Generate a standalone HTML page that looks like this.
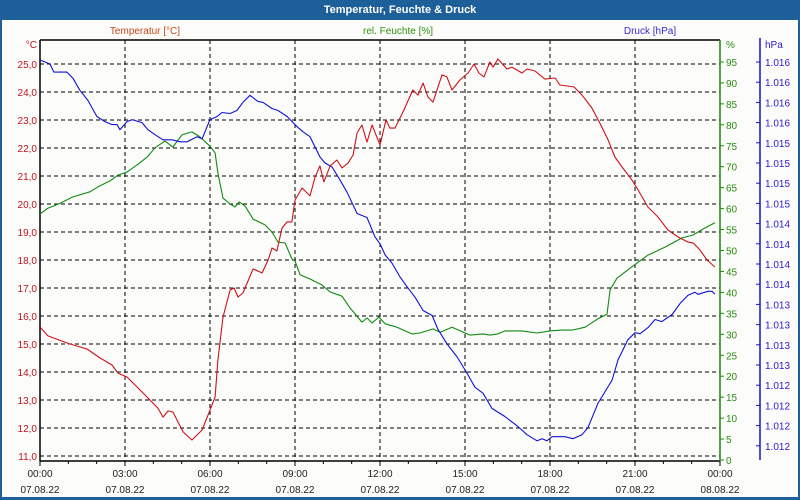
<!DOCTYPE html>
<html><head><meta charset="utf-8"><style>
html,body{margin:0;padding:0;background:#fff}
#wrap{position:relative;width:800px;height:500px;overflow:hidden;font-family:"Liberation Sans",Tahoma,sans-serif}
</style></head><body>
<div id="wrap">
<svg id="svg" width="800" height="500" xmlns="http://www.w3.org/2000/svg">
  <rect x="0" y="0" width="800" height="500" fill="#1d5f98"/>
  <rect x="2" y="20" width="796" height="477" fill="#fcfdfa"/>
  <text x="400" y="13" fill="#fff" font-size="11" font-weight="bold" text-anchor="middle">Temperatur, Feuchte &amp; Druck</text>
  <text x="145" y="34" fill="#c8461a" font-size="10" text-anchor="middle">Temperatur [°C]</text>
  <text x="398" y="34" fill="#2f8f10" font-size="10" text-anchor="middle">rel. Feuchte [%]</text>
  <text x="650" y="34" fill="#3a2ad0" font-size="10" text-anchor="middle">Druck [hPa]</text>
  <g id="grid"></g>
  <g id="axes"></g>
  <g id="series"></g>
</svg>
</div>
<script>
const tempTicks = [11,12,13,14,15,16,17,18,19,20,21,22,23,24,25];
const humTicks = [0,5,10,15,20,25,30,35,40,45,50,55,60,65,70,75,80,85,90,95];
const presTickLabels = ["1.016","1.016","1.016","1.016","1.015","1.015","1.015","1.015","1.014","1.014","1.014","1.014","1.013","1.013","1.013","1.013","1.012","1.012","1.012","1.012"];
const timeTicks = [0,3,6,9,12,15,18,21,24];
const timeLabels = ["00:00","03:00","06:00","09:00","12:00","15:00","18:00","21:00","00:00"];
const dateLabels = ["07.08.22","07.08.22","07.08.22","07.08.22","07.08.22","07.08.22","07.08.22","07.08.22","08.08.22"];

const tempHours = [0,0.28,1.06,1.66,2.12,2.54,2.75,3.07,3.53,4.16,4.34,4.52,4.69,5.05,5.36,5.72,6.0,6.18,6.28,6.46,6.71,6.85,6.99,7.16,7.52,7.84,8.05,8.19,8.36,8.54,8.72,8.89,9.0,9.25,9.53,9.71,9.88,10.02,10.24,10.48,10.66,10.87,11.05,11.19,11.36,11.54,11.72,12.0,12.21,12.35,12.53,12.81,13.16,13.34,13.52,13.69,13.87,14.19,14.36,14.54,14.82,15.11,15.32,15.49,15.67,15.88,15.99,16.16,16.48,16.66,17.01,17.19,17.47,17.82,18.18,18.35,18.85,19.13,19.48,19.76,20.05,20.29,20.54,20.89,21.11,21.46,21.81,22.16,22.52,22.87,23.05,23.29,23.54,23.82];
const tempValues = [15.61,15.29,15.0,14.82,14.5,14.25,13.96,13.82,13.36,12.71,12.39,12.61,12.57,11.86,11.57,11.93,12.64,13.11,14.43,15.96,16.93,17.0,16.68,16.82,17.68,17.54,18.0,18.43,18.32,19.14,19.36,19.36,20.14,20.57,20.29,20.96,21.36,20.79,21.36,21.57,21.29,21.46,21.75,22.54,22.82,22.21,22.82,22.11,23.0,22.71,22.71,23.29,24.07,23.89,24.32,23.82,23.64,24.61,24.54,24.07,24.43,24.68,25.0,24.68,24.54,25.07,24.89,25.18,24.82,24.89,24.68,24.82,24.75,24.46,24.5,24.25,24.18,23.89,23.43,22.89,22.29,21.68,21.32,20.86,20.5,19.89,19.54,19.07,18.82,18.64,18.61,18.36,18.0,17.75];

const humHours = [0,0.28,0.71,1.16,1.76,2.05,2.47,2.75,3.07,3.46,3.78,4.06,4.41,4.69,5.01,5.36,5.65,6.0,6.18,6.28,6.46,6.71,6.88,7.03,7.24,7.52,7.94,8.19,8.4,8.65,8.89,9.0,9.18,9.53,9.95,10.24,10.66,10.94,11.36,11.54,11.72,11.96,12.18,12.6,13.13,13.41,13.87,14.12,14.54,15.18,15.64,15.88,16.16,16.41,17.01,17.54,18.0,18.42,18.78,19.24,19.69,20.01,20.12,20.36,20.89,21.46,22.06,22.66,23.05,23.47,23.82];
const humValues = [58.7,60.1,61.3,62.8,64.0,65.2,66.6,68.0,68.7,70.6,72.3,74.5,76.1,74.7,77.6,78.3,77.1,74.9,73.3,68.5,62.5,61.1,60.4,61.6,60.6,57.5,56.1,54.4,52.0,51.8,48.0,47.5,44.2,43.2,41.8,40.1,39.1,36.3,32.9,33.9,32.7,34.1,32.5,31.7,30.1,30.3,31.3,30.5,31.7,29.8,30.1,29.8,30.1,30.8,30.8,30.3,30.8,31.0,31.0,31.7,33.7,34.8,40.6,43.4,46.1,48.9,50.8,53.0,53.7,55.4,56.6];

const presHours = [0,0.35,0.49,0.95,1.16,1.41,1.69,2.01,2.29,2.54,2.72,2.82,3.07,3.25,3.6,3.81,4.06,4.34,4.66,4.94,5.19,5.54,5.72,6.0,6.25,6.42,6.71,6.95,7.16,7.41,7.69,7.87,8.19,8.4,8.72,9.07,9.28,9.53,9.88,10.06,10.31,10.59,10.84,11.19,11.54,11.82,12.0,12.18,12.42,12.71,12.99,13.24,13.52,13.84,14.05,14.36,14.72,15.07,15.35,15.64,15.95,16.41,16.87,17.19,17.54,17.72,17.89,18.07,18.53,18.81,19.13,19.34,19.69,20.19,20.4,20.75,21.0,21.18,21.46,21.71,21.95,22.31,22.59,22.87,23.12,23.22,23.58,23.72,23.82];
const presValues = [1016.32,1016.28,1016.2,1016.2,1016.14,1016.02,1015.92,1015.76,1015.71,1015.68,1015.68,1015.63,1015.71,1015.73,1015.7,1015.63,1015.58,1015.53,1015.53,1015.51,1015.51,1015.56,1015.54,1015.73,1015.76,1015.8,1015.79,1015.82,1015.9,1015.97,1015.91,1015.9,1015.84,1015.82,1015.76,1015.66,1015.61,1015.56,1015.36,1015.3,1015.26,1015.13,1015.01,1014.8,1014.76,1014.57,1014.5,1014.39,1014.31,1014.17,1014.06,1013.97,1013.84,1013.79,1013.65,1013.51,1013.38,1013.22,1013.08,1013.02,1012.87,1012.79,1012.69,1012.61,1012.55,1012.57,1012.55,1012.59,1012.59,1012.57,1012.61,1012.68,1012.92,1013.15,1013.35,1013.55,1013.62,1013.61,1013.67,1013.75,1013.73,1013.8,1013.91,1013.99,1014.02,1014.0,1014.03,1014.03,1014.0];

const NS = "http://www.w3.org/2000/svg";
const X0 = 40, X1 = 720, YT = 40, YB = 461;
const xScale = h => X0 + h * (X1 - X0) / 24;
const yTemp = t => 64 + (25 - t) * 28;
const yHum = p => 460 - p * 4.19;
const yPres = p => 62 + (1016.3 - p) * 101;
const presTickY = i => 62 + i * 20.2;

function mk(tag, attrs, parent) {
  const e = document.createElementNS(NS, tag);
  for (const k in attrs) e.setAttribute(k, attrs[k]);
  parent.appendChild(e);
  return e;
}
const grid = document.getElementById('grid');
const axes = document.getElementById('axes');
const series = document.getElementById('series');

// horizontal grid + left labels
tempTicks.forEach(t => {
  const y = yTemp(t);
  const l = mk('line', {x1: X0, x2: X1, y1: y, y2: y, stroke: '#000', 'stroke-dasharray': '4,3', 'stroke-width': 1}, grid);
  
  
  const tx = mk('text', {x: 37, y: y + 4, fill: '#c0141e', 'font-size': 10, 'text-anchor': 'end'}, axes);
  tx.textContent = t.toFixed(1).replace('.', ',');
  
  
});
const degLbl = mk('text', {x: 37, y: 48, fill: '#c0141e', 'font-size': 10, 'text-anchor': 'end'}, axes);
degLbl.textContent = '°C';



// vertical grid + x labels
timeTicks.forEach((h, i) => {
  const x = xScale(h);
  if (i > 0 && i < timeTicks.length - 1) {
    const l = mk('line', {x1: x, x2: x, y1: YT, y2: YB, stroke: '#000', 'stroke-dasharray': '4,3', 'stroke-width': 1}, grid);
    
    
  }
  const t1 = mk('text', {x: x, y: 477, fill: '#222', 'font-size': 10, 'text-anchor': 'middle'}, axes);
  t1.textContent = timeLabels[i];
  
  
  const t2 = mk('text', {x: x, y: 493, fill: '#222', 'font-size': 10, 'text-anchor': 'middle'}, axes);
  t2.textContent = dateLabels[i];
  
  
});
for (let h = 0; h <= 24; h++) {
  const x = xScale(h);
  const tk = mk('line', {x1: x, x2: x, y1: YB, y2: YB + (h % 3 === 0 ? 5 : 3), stroke: '#000'}, axes);
  
  
}

// frame lines
const topL = mk('line', {x1: X0, x2: X1, y1: YT, y2: YT, stroke: '#000', 'stroke-width': 1.5}, axes);


const leftL = mk('line', {x1: X0, x2: X0, y1: YT, y2: YB, stroke: '#000', 'stroke-width': 1.5}, axes);


const botL = mk('line', {x1: X0, x2: X1, y1: YB, y2: YB, stroke: '#000', 'stroke-width': 1.5}, axes);


const greenL = mk('line', {x1: X1, x2: X1, y1: YT, y2: YB, stroke: '#1a8a10', 'stroke-width': 1.5}, axes);


humTicks.forEach(p => {
  const y = yHum(p);
  const tk = mk('line', {x1: X1, x2: X1 + 4, y1: y, y2: y, stroke: '#1a8a10'}, axes);
  
  
  const tx = mk('text', {x: X1 + 6, y: y + 4, fill: '#2a8a10', 'font-size': 10}, axes);
  tx.textContent = p;
  
  
});
const pctLbl = mk('text', {x: X1 + 6, y: 48, fill: '#2a8a10', 'font-size': 10}, axes);
pctLbl.textContent = '%';



const blueL = mk('line', {x1: 760, x2: 760, y1: 38, y2: 460, stroke: '#1a10d0', 'stroke-width': 1.5}, axes);


presTickLabels.forEach((lab, i) => {
  const y = presTickY(i);
  const tk = mk('line', {x1: 756, x2: 760, y1: y, y2: y, stroke: '#1a10d0'}, axes);
  
  
  const tx = mk('text', {x: 765, y: y + 4, fill: '#2a1ad0', 'font-size': 10}, axes);
  tx.textContent = lab;
  
  
});
const hpaLbl = mk('text', {x: 765, y: 48, fill: '#2a1ad0', 'font-size': 10}, axes);
hpaLbl.textContent = 'hPa';



function drawLine(hours, vals, yf, color, name) {
  const pts = hours.map((h, i) => xScale(h).toFixed(1) + ',' + yf(vals[i]).toFixed(1)).join(' ');
  const pl = mk('polyline', {points: pts, fill: 'none', stroke: color, 'stroke-width': 1.1, 'stroke-linejoin': 'round'}, series);
  
  
}
drawLine(humHours, humValues, yHum, '#108a10', 'humidity-line');
drawLine(presHours, presValues, yPres, '#1010d8', 'pressure-line');
drawLine(tempHours, tempValues, yTemp, '#d0101a', 'temperature-line');
</script>
</body></html>
